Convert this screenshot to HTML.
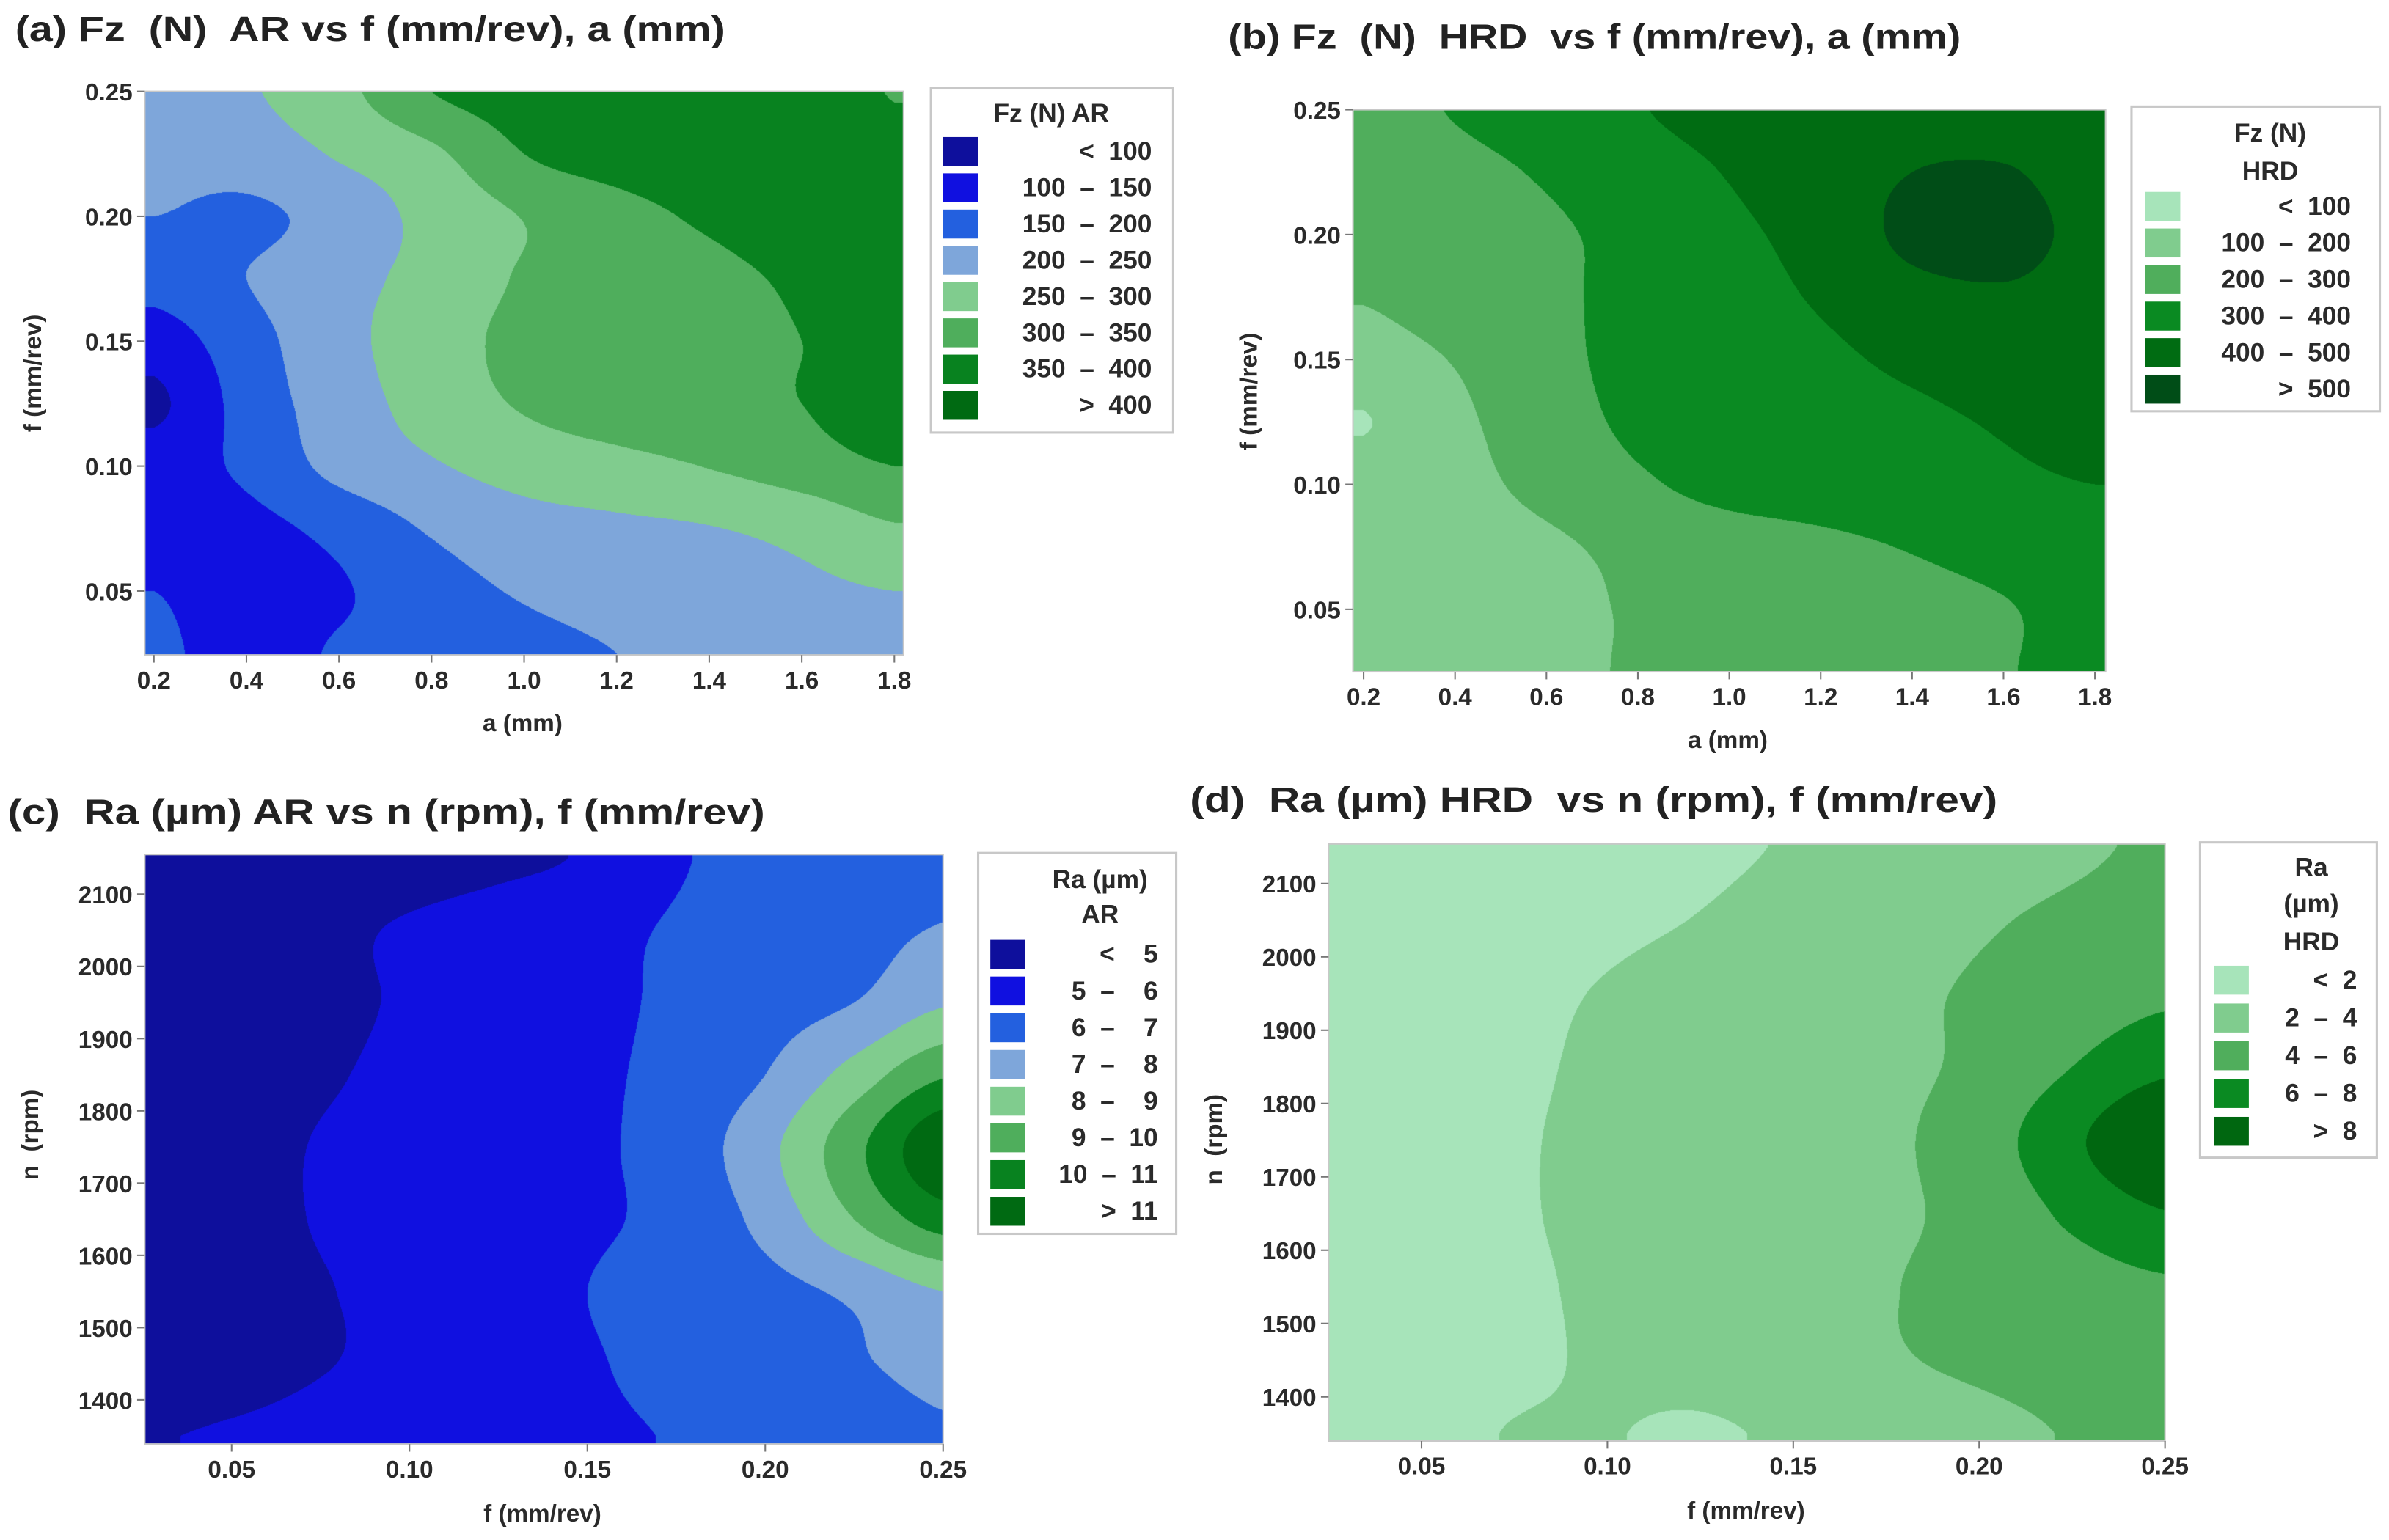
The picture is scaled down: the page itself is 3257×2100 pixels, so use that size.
<!DOCTYPE html>
<html><head><meta charset="utf-8">
<style>
html,body{margin:0;padding:0;background:#fff;}
#root{position:relative;width:3257px;height:2100px;overflow:hidden;background:#fff;}
canvas{position:absolute;}
#chartsvg{position:absolute;left:0;top:0;}
text{font-family:"Liberation Sans",sans-serif;fill:#2a2a2a;white-space:pre;font-weight:bold;}
.tt{font-weight:bold;fill:#222;}
</style></head>
<body>
<div id="root">
<canvas id="cva"></canvas>
<canvas id="cvb"></canvas>
<canvas id="cvc"></canvas>
<canvas id="cvd"></canvas>
<svg id="chartsvg" width="3257" height="2100" viewBox="0 0 1568 1011" preserveAspectRatio="none">
<text class="tt" x="10" y="27" font-size="23" textLength="466" lengthAdjust="spacingAndGlyphs">(a) Fz  (N)  AR vs f (mm/rev), a (mm)</text>
<text class="tt" x="806" y="32" font-size="23" textLength="481" lengthAdjust="spacingAndGlyphs">(b) Fz  (N)  HRD  vs f (mm/rev), a (mm)</text>
<text class="tt" x="5" y="541" font-size="23" textLength="497" lengthAdjust="spacingAndGlyphs">(c)  Ra (µm) AR vs n (rpm), f (mm/rev)</text>
<text class="tt" x="781" y="533" font-size="23" textLength="530" lengthAdjust="spacingAndGlyphs">(d)  Ra (µm) HRD  vs n (rpm), f (mm/rev)</text>
</svg>
</div>
<script>
var SC = 3257/1568;
var SVGNS = "http://www.w3.org/2000/svg";
var svgRoot = document.getElementById('chartsvg');

// ---------- Panel (a) data ----------
var aX = [0.2,0.4,0.6,0.8,1.0,1.2,1.4,1.6,1.8];
var aY = [0.025,0.05,0.075,0.10,0.125,0.15,0.175,0.20,0.225,0.25];
var aZ = [
 [160,130,155,170,185,200,215,225,235],
 [150,125,145,180,205,220,230,240,250],
 [125,135,165,205,230,240,248,265,295],
 [125,160,215,245,270,285,302,325,350],
 [90,170,225,270,305,325,335,350,385],
 [125,180,235,275,315,330,340,350,380],
 [170,200,235,265,305,320,335,360,385],
 [200,190,220,265,302,330,360,385,385],
 [215,225,255,290,350,375,390,385,365],
 [225,245,285,350,375,390,390,375,348]
];
var aLevels = [100,150,200,250,300,350,400];
var aLabels = ["<  100","100  –  150","150  –  200","200  –  250","250  –  300","300  –  350","350  –  400",">  400"];
var aXTicks = [0.2,0.4,0.6,0.8,1.0,1.2,1.4,1.6,1.8];
var aYTicks = [0.05,0.10,0.15,0.20,0.25];

// ---------- Panel (b) data ----------
var bX = [0.2,0.4,0.6,0.8,1.0,1.2,1.4,1.6,1.8];
var bY = [0.025,0.05,0.075,0.10,0.125,0.15,0.175,0.20,0.225,0.25];
var bZ = [
 [125,145,175,210,235,255,275,295,330],
 [130,150,175,210,240,260,275,295,330],
 [140,160,185,225,255,280,305,330,350],
 [150,175,225,285,330,345,360,380,400],
 [95,180,250,320,340,360,380,410,440],
 [160,205,270,330,350,380,420,450,460],
 [205,245,280,330,365,410,470,490,470],
 [235,255,285,330,380,435,520,525,480],
 [250,275,310,360,405,455,500,505,470],
 [270,305,345,395,430,450,465,465,455]
];
var bLevels = [100,200,300,400,500];
var bLabels = ["<  100","100  –  200","200  –  300","300  –  400","400  –  500",">  500"];
var bXTicks = [0.2,0.4,0.6,0.8,1.0,1.2,1.4,1.6,1.8];
var bYTicks = [0.05,0.10,0.15,0.20,0.25];

// ---------- Panel (c) data ----------
var cX = [0.025,0.05,0.075,0.10,0.125,0.15,0.175,0.20,0.225,0.25];
var cY = [1350,1450,1550,1650,1750,1850,1950,2050,2150];
var cZ = [
 [4.95,5.1,5.3,5.5,5.7,5.85,6.05,6.3,6.6,6.9],
 [4.4,4.6,4.95,5.2,5.5,5.9,6.3,6.6,6.9,7.3],
 [4.4,4.6,4.95,5.2,5.5,6.0,6.4,6.7,7.2,8.0],
 [4.5,4.7,5.05,5.3,5.6,5.85,6.3,7.3,9.0,10.5],
 [4.5,4.7,5.05,5.3,5.6,5.85,6.4,7.7,9.7,11.8],
 [4.4,4.6,4.9,5.2,5.5,5.8,6.3,7.0,8.4,9.9],
 [4.5,4.6,4.8,5.1,5.4,5.7,6.2,6.6,7.0,7.9],
 [4.4,4.6,4.8,5.1,5.4,5.7,6.1,6.4,6.7,7.05],
 [4.3,4.4,4.5,4.6,4.8,5.1,5.9,6.3,6.6,6.9]
];
var cLevels = [5,6,7,8,9,10,11];
var cLabels = ["<    5","5  –    6","6  –    7","7  –    8","8  –    9","9  –  10","10  –  11",">  11"];
var cXTicks = [0.05,0.10,0.15,0.20,0.25];
var cYTicks = [1400,1500,1600,1700,1800,1900,2000,2100];

// ---------- Panel (d) data ----------
var dX = [0.025,0.05,0.075,0.10,0.125,0.15,0.175,0.20,0.225,0.25];
var dY = [1350,1450,1550,1650,1750,1850,1950,2050,2150];
var dZ = [
 [1.4,1.6,2.05,2.05,1.8,2.3,2.9,3.5,4.1,4.5],
 [1.3,1.45,1.75,2.2,2.6,3.1,3.8,4.3,4.7,5.0],
 [1.3,1.45,1.75,2.3,2.8,3.2,3.9,4.5,5.1,5.7],
 [1.35,1.5,1.85,2.4,2.9,3.3,3.7,4.6,6.4,7.9],
 [1.35,1.5,1.85,2.4,2.9,3.3,3.7,5.0,7.6,10],
 [1.3,1.45,1.75,2.3,2.8,3.2,3.6,4.4,6.0,7.6],
 [1.3,1.45,1.7,2.1,2.6,3.1,3.6,4.2,4.8,5.6],
 [1.3,1.4,1.55,1.75,2.05,2.5,3.1,3.8,4.3,4.7],
 [1.3,1.4,1.5,1.65,1.8,2.1,2.6,3.2,3.75,4.2]
];
var dLevels = [2,4,6,8];
var dLabels = ["<  2","2  –  4","4  –  6","6  –  8",">  8"];
var dXTicks = [0.05,0.10,0.15,0.20,0.25];
var dYTicks = [1400,1500,1600,1700,1800,1900,2000,2100];

var BLUEGREEN = ["#0e0f9c","#1010e0","#2360df","#7ea6da","#80cc8e","#4fae5c","#08821f","#006a12"];
var GREENS6 = ["#a7e4ba","#80cc8e","#50ae5c","#0a8a22","#006c12","#004d17"];
var GREENS5 = ["#a7e4ba","#80cc8e","#50ae5c","#0a8a22","#006710"];

function hexToRgb(c){return [parseInt(c.substr(1,2),16),parseInt(c.substr(3,2),16),parseInt(c.substr(5,2),16)];}
function crm(p0,p1,p2,p3,t){return 0.5*((2*p1)+(-p0+p2)*t+(2*p0-5*p1+4*p2-p3)*t*t+(-p0+3*p1-3*p2+p3)*t*t*t);}
function clampI(i,n){return Math.max(0,Math.min(n-1,i));}
function sampleGrid(Z,gx,gy){
  var ny=Z.length, nx=Z[0].length;
  gx=Math.max(0,Math.min(nx-1,gx)); gy=Math.max(0,Math.min(ny-1,gy));
  var ix=Math.min(nx-2,Math.floor(gx)), iy=Math.min(ny-2,Math.floor(gy));
  var tx=gx-ix, ty=gy-iy;
  var rows=[];
  for(var j=-1;j<=2;j++){
    var r=Z[clampI(iy+j,ny)];
    rows.push(crm(r[clampI(ix-1,nx)],r[ix],r[clampI(ix+1,nx)],r[clampI(ix+2,nx)],tx));
  }
  return crm(rows[0],rows[1],rows[2],rows[3],ty);
}

function mk(tag,attrs){var e=document.createElementNS(SVGNS,tag);for(var k in attrs)e.setAttribute(k,attrs[k]);svgRoot.appendChild(e);return e;}

function drawPanel(P){
  var sx=function(v){return P.xPix0+(v-P.xVal0)*P.xPpu;};
  var sy=function(v){return P.yPix0-(v-P.yVal0)*P.yPpu;};
  var cv=document.getElementById(P.canvas);
  var L=Math.round(P.L*SC), T=Math.round(P.T*SC), W=Math.round((P.R-P.L)*SC), H=Math.round((P.B-P.T)*SC);
  cv.style.left=L+'px'; cv.style.top=T+'px'; cv.width=W; cv.height=H;
  var ctx=cv.getContext('2d'); var img=ctx.createImageData(W,H);
  var cols=P.colors.map(hexToRgb);
  var xs=P.gx, ys=P.gy;
  var xstep=xs[1]-xs[0], ystep=ys[1]-ys[0];
  for(var py=0;py<H;py++){
    var dy=(T+py+0.5)/SC; var vy=P.yVal0+(P.yPix0-dy)/P.yPpu;
    var gy=(vy-ys[0])/ystep;
    for(var px=0;px<W;px++){
      var dx=(L+px+0.5)/SC; var vx=P.xVal0+(dx-P.xPix0)/P.xPpu;
      var gx=(vx-xs[0])/xstep;
      var z=sampleGrid(P.Z,gx,gy);
      var k=0; while(k<P.levels.length && z>=P.levels[k]) k++;
      var c=cols[k]; var o=(py*W+px)*4;
      img.data[o]=c[0];img.data[o+1]=c[1];img.data[o+2]=c[2];img.data[o+3]=255;
    }
  }
  ctx.putImageData(img,0,0);
  var fr=mk('rect',{x:P.L,y:P.T,width:P.R-P.L,height:P.B-P.T,fill:'none',stroke:'#c8c8c8','stroke-width':1});
  
  
  P.xticks.forEach(function(v){
    var x=sx(v);
    var t=mk('line',{x1:x,x2:x,y1:P.B,y2:P.B+5,stroke:'#777','stroke-width':1});
    
    
    var lb=mk('text',{x:x,y:P.B+22,'font-size':16,'text-anchor':'middle'});
    lb.textContent=v.toFixed(P.xdec);
    
    
  });
  P.yticks.forEach(function(v){
    var y=sy(v);
    var t=mk('line',{x1:P.L-5,x2:P.L,y1:y,y2:y,stroke:'#777','stroke-width':1});
    
    
    var lb=mk('text',{x:P.L-8,y:y+6,'font-size':16,'text-anchor':'end'});
    lb.textContent=v.toFixed(P.ydec);
    
    
  });
  var xt=mk('text',{x:P.xTitle[0],y:P.xTitle[1],'font-size':16,'text-anchor':'middle'});
  xt.textContent=P.xTitleText;
  
  
  var yt=mk('text',{x:0,y:0,'font-size':16,'text-anchor':'middle',transform:'translate('+P.yTitle[0]+','+P.yTitle[1]+') rotate(-90)'});
  yt.textContent=P.yTitleText;
  
  
  var lg=P.legend;
  var box=mk('rect',{x:lg.x,y:lg.y,width:lg.w,height:lg.h,fill:'#fff',stroke:'#c8c8c8','stroke-width':1.5});
  
  
  lg.title.forEach(function(s,i){
    var t=mk('text',{x:lg.tx,y:lg.ty[i],'font-size':17,'text-anchor':'middle'});
    t.textContent=s;
    
    
  });
  P.labels.forEach(function(s,i){
    var y=lg.y0+i*lg.dy;
    var r=mk('rect',{x:lg.sx,y:y-9,width:23,height:19,fill:P.colors[i]});
    
    
    var t=mk('text',{x:lg.lx,y:y+6,'font-size':17,'text-anchor':'end'});
    t.textContent=s;
    
    
  });
}

var panels=[
 {id:'a',canvas:'cva',L:95,R:593,T:60,B:430,xPix0:101,xVal0:0.2,xPpu:303.75,yPix0:388,yVal0:0.05,yPpu:1640,
  gx:aX,gy:aY,Z:aZ,levels:aLevels,colors:BLUEGREEN,labels:aLabels,xticks:aXTicks,yticks:aYTicks,xdec:1,ydec:2,
  xTitle:[343,480],xTitleText:'a (mm)',yTitle:[27,245],yTitleText:'f (mm/rev)',
  legend:{x:611,y:58,w:159,h:226,tx:690,ty:[80],title:['Fz (N) AR'],sx:619,lx:756,y0:99,dy:23.8}},
 {id:'b',canvas:'cvb',L:888,R:1382,T:72,B:441,xPix0:895,xVal0:0.2,xPpu:300,yPix0:400,yVal0:0.05,yPpu:1640,
  gx:bX,gy:bY,Z:bZ,levels:bLevels,colors:GREENS6,labels:bLabels,xticks:bXTicks,yticks:bYTicks,xdec:1,ydec:2,
  xTitle:[1134,491],xTitleText:'a (mm)',yTitle:[825,257],yTitleText:'f (mm/rev)',
  legend:{x:1399,y:70,w:163,h:200,tx:1490,ty:[93,118],title:['Fz (N)','HRD'],sx:1408,lx:1543,y0:135,dy:24}},
 {id:'c',canvas:'cvc',L:95,R:619,T:561,B:948,xPix0:152,xVal0:0.05,xPpu:2335,yPix0:919,yVal0:1400,yPpu:0.4743,
  gx:cX,gy:cY,Z:cZ,levels:cLevels,colors:BLUEGREEN,labels:cLabels,xticks:cXTicks,yticks:cYTicks,xdec:2,ydec:0,
  xTitle:[356,999],xTitleText:'f (mm/rev)',yTitle:[25,745],yTitleText:'n  (rpm)',
  legend:{x:642,y:560,w:130,h:250,tx:722,ty:[583,606],title:['Ra (µm)','AR'],sx:650,lx:760,y0:626,dy:24.1}},
 {id:'d',canvas:'cvd',L:872,R:1421,T:554,B:946,xPix0:933,xVal0:0.05,xPpu:2440,yPix0:917,yVal0:1400,yPpu:0.4814,
  gx:dX,gy:dY,Z:dZ,levels:dLevels,colors:GREENS5,labels:dLabels,xticks:dXTicks,yticks:dYTicks,xdec:2,ydec:0,
  xTitle:[1146,997],xTitleText:'f (mm/rev)',yTitle:[802,748],yTitleText:'n  (rpm)',
  legend:{x:1444,y:553,w:116,h:207,tx:1517,ty:[575,599,624],title:['Ra','(µm)','HRD'],sx:1453,lx:1547,y0:643,dy:24.8}}
];
panels.forEach(function(P){ try{ drawPanel(P); }catch(e){ console.log(e); } });
</script>
</body></html>
